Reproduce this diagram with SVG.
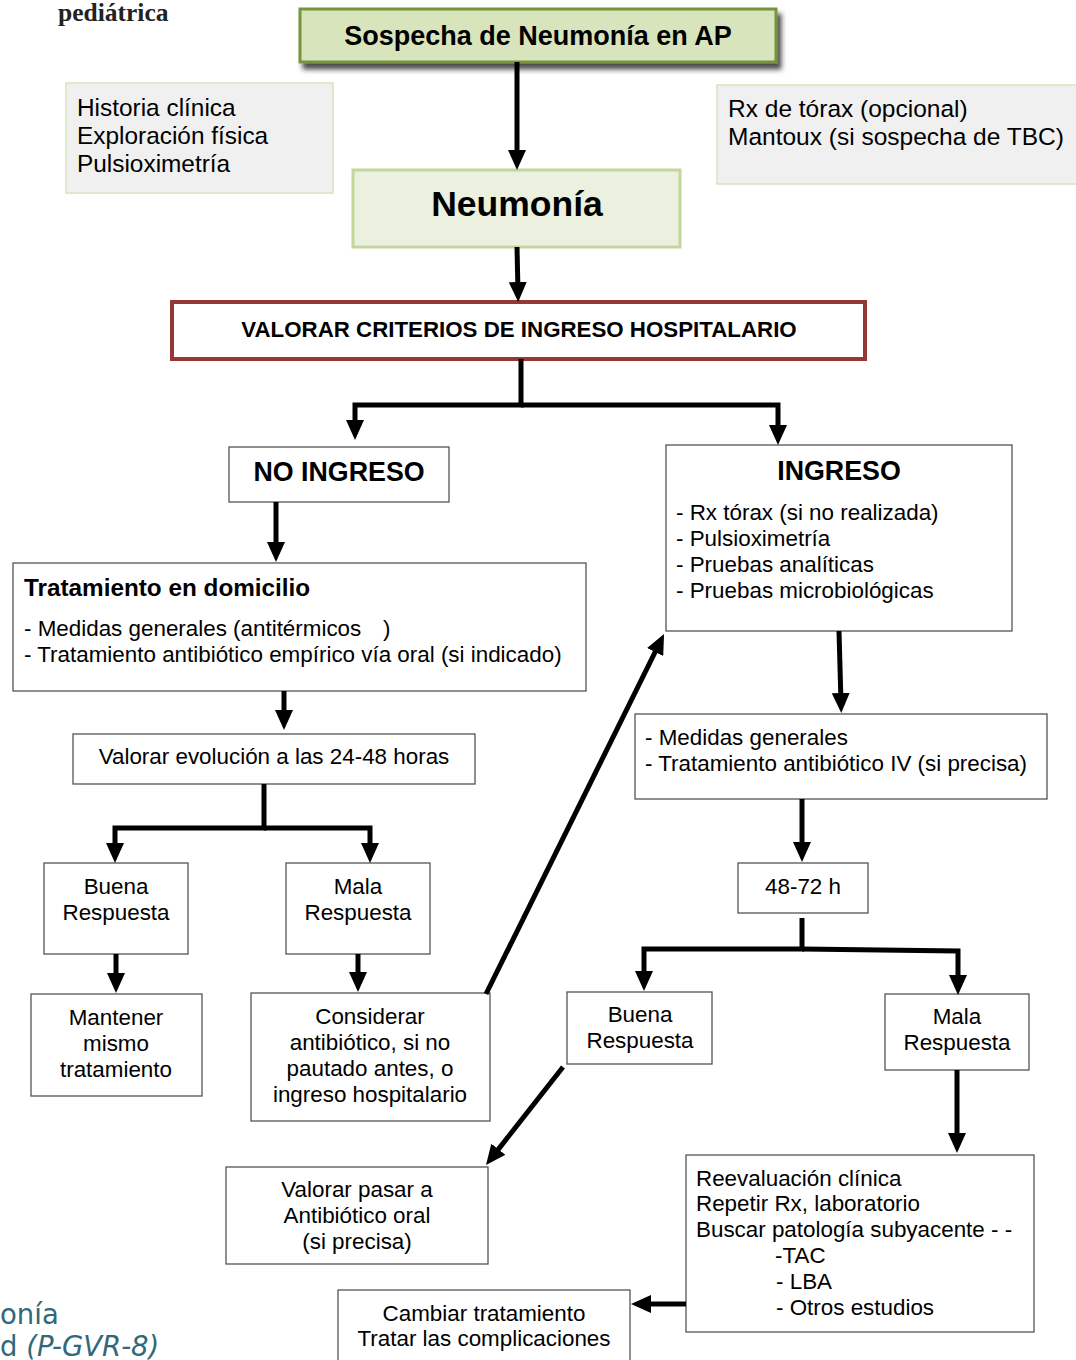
<svg xmlns="http://www.w3.org/2000/svg" width="1076" height="1360" viewBox="0 0 1076 1360">
<defs>
<marker id="ah" markerUnits="userSpaceOnUse" viewBox="0 0 20 18" markerWidth="20" markerHeight="18" refX="10" refY="9" orient="auto">
<path d="M0,0 L20,9 L0,18 z" fill="#000"/>
</marker>
<filter id="sh" x="-10%" y="-30%" width="125%" height="180%">
<feDropShadow dx="4" dy="6" stdDeviation="2.5" flood-color="#222" flood-opacity="0.8"/>
</filter>
</defs>
<style>
text{font-family:"Liberation Sans",Arial,sans-serif;fill:#000}
.r{font-size:22.4px}
.c{text-anchor:middle}
.b{font-weight:bold}
.box{fill:#fff;stroke:#555;stroke-width:1.3}
.info{fill:#f0f0f0;stroke:#d8e4bc;stroke-width:1.5}
.con path{fill:none;stroke:#000;stroke-width:5;marker-end:url(#ah)}
</style>
<rect width="1076" height="1360" fill="#fff"/>
<text x="58" y="21" style="font-family:'Liberation Serif','Times New Roman',serif;font-weight:bold;font-size:25.5px;fill:#222">pediátrica</text>
<text x="0" y="1324" style="font-family:'DejaVu Sans',Verdana,sans-serif;font-size:27.5px;fill:#31687a">onía</text>
<text x="0" y="1356" style="font-family:'DejaVu Sans',Verdana,sans-serif;font-size:27.5px;fill:#31687a">d <tspan font-style="italic">(P-GVR-8)</tspan></text>

<g id="n-sospecha">
<rect x="300" y="9" width="476" height="53" fill="#d8e4bc" stroke="#77933c" stroke-width="3" filter="url(#sh)"/>
<text x="538" y="45" class="c b" font-size="27">Sospecha de Neumonía en AP</text>
</g>
<g id="n-historia">
<rect x="66" y="83" width="267" height="110" class="info"/>
<text x="77" y="116" font-size="24.4">Historia clínica</text>
<text x="77" y="144" font-size="24.4">Exploración física</text>
<text x="77" y="172" font-size="24.4">Pulsioximetría</text>
</g>
<g id="n-rx">
<rect x="717" y="85" width="362" height="99" class="info"/>
<text x="728" y="117" font-size="24.5">Rx de tórax (opcional)</text>
<text x="728" y="145" font-size="24.5">Mantoux (si sospecha de TBC)</text>
</g>
<g id="n-neumonia">
<rect x="353" y="170" width="327" height="77" fill="#ebf1de" stroke="#c3d69b" stroke-width="3"/>
<text x="517" y="216" class="c b" font-size="35.5">Neumonía</text>
</g>
<g id="n-valorar">
<rect x="172" y="302" width="693" height="57" fill="#fff" stroke="#953735" stroke-width="4"/>
<text x="519" y="337" class="c b" font-size="22.3">VALORAR CRITERIOS DE INGRESO HOSPITALARIO</text>
</g>
<g id="n-noingreso">
<rect x="229" y="447" width="220" height="55" class="box"/>
<text x="339" y="481" class="c b" font-size="26.8">NO INGRESO</text>
</g>
<g id="n-ingreso">
<rect x="666" y="445" width="346" height="186" class="box"/>
<text x="839" y="480" class="c b" font-size="26.8">INGRESO</text>
<text x="676" y="520" class="r">- Rx tórax (si no realizada)</text>
<text x="676" y="546" class="r">- Pulsioximetría</text>
<text x="676" y="572" class="r">- Pruebas analíticas</text>
<text x="676" y="598" class="r">- Pruebas microbiológicas</text>
</g>
<g id="n-domicilio">
<rect x="13" y="563" width="573" height="128" class="box"/>
<text x="24" y="596" class="b" font-size="24.3">Tratamiento en domicilio</text>
<text x="24" y="636" class="r">- Medidas generales (antitérmicos<tspan x="383">)</tspan></text>
<text x="24" y="662" class="r">- Tratamiento antibiótico empírico vía oral (si indicado)</text>
</g>
<g id="n-evolucion">
<rect x="73" y="734" width="402" height="50" class="box"/>
<text x="274" y="764" class="r c">Valorar evolución a las 24-48 horas</text>
</g>
<g id="n-buena1">
<rect x="44" y="863" width="144" height="91" class="box"/>
<text x="116" y="894" class="r c">Buena</text>
<text x="116" y="920" class="r c">Respuesta</text>
</g>
<g id="n-mala1">
<rect x="286" y="863" width="144" height="91" class="box"/>
<text x="358" y="894" class="r c">Mala</text>
<text x="358" y="920" class="r c">Respuesta</text>
</g>
<g id="n-mantener">
<rect x="31" y="994" width="171" height="102" class="box"/>
<text x="116" y="1025" class="r c">Mantener</text>
<text x="116" y="1051" class="r c">mismo</text>
<text x="116" y="1077" class="r c">tratamiento</text>
</g>
<g id="n-considerar">
<rect x="251" y="993" width="239" height="128" class="box"/>
<text x="370" y="1024" class="r c">Considerar</text>
<text x="370" y="1050" class="r c">antibiótico, si no</text>
<text x="370" y="1076" class="r c">pautado antes, o</text>
<text x="370" y="1102" class="r c">ingreso hospitalario</text>
</g>
<g id="n-medidas">
<rect x="635" y="714" width="412" height="85" class="box"/>
<text x="645" y="745" class="r">- Medidas generales</text>
<text x="645" y="771" class="r">- Tratamiento antibiótico IV (si precisa)</text>
</g>
<g id="n-4872">
<rect x="738" y="863" width="130" height="50" class="box"/>
<text x="803" y="894" class="r c">48-72 h</text>
</g>
<g id="n-buena2">
<rect x="567" y="992" width="145" height="72" class="box"/>
<text x="640" y="1022" class="r c">Buena</text>
<text x="640" y="1048" class="r c">Respuesta</text>
</g>
<g id="n-mala2">
<rect x="885" y="994" width="144" height="76" class="box"/>
<text x="957" y="1024" class="r c">Mala</text>
<text x="957" y="1050" class="r c">Respuesta</text>
</g>
<g id="n-oral">
<rect x="226" y="1167" width="262" height="97" class="box"/>
<text x="357" y="1197" class="r c">Valorar pasar a</text>
<text x="357" y="1223" class="r c">Antibiótico oral</text>
<text x="357" y="1249" class="r c">(si precisa)</text>
</g>
<g id="n-reevaluacion">
<rect x="686" y="1155" width="348" height="177" class="box"/>
<text x="696" y="1186" class="r">Reevaluación clínica</text>
<text x="696" y="1211" class="r">Repetir Rx, laboratorio</text>
<text x="696" y="1237" class="r">Buscar patología subyacente - -</text>
<text x="775" y="1263" class="r">-TAC</text>
<text x="776" y="1289" class="r">- LBA</text>
<text x="776" y="1315" class="r">- Otros estudios</text>
</g>
<g id="n-cambiar">
<rect x="338" y="1290" width="292" height="80" class="box"/>
<text x="484" y="1321" class="r c">Cambiar tratamiento</text>
<text x="484" y="1346" class="r c">Tratar las complicaciones</text>
</g>

<g class="con" id="connectors">
<path d="M517,62 V160"/>
<path d="M517,247 L518,292"/>
<path d="M521,359 V405 H355 V430"/>
<path d="M521,405 H778 V435"/>
<path d="M276,502 V552"/>
<path d="M284,691 V720"/>
<path d="M264,784 V828 H115 V853"/>
<path d="M264,828 H370 V853"/>
<path d="M116,954 V983"/>
<path d="M358,954 V982"/>
<path d="M486,994 L659.6,643"/>
<path d="M839,631 L841,703"/>
<path d="M802,799 V852"/>
<path d="M802,918 V949 H644 V981"/>
<path d="M802,949 L958,951 V985"/>
<path d="M563,1067 L492.2,1157.1"/>
<path d="M957,1070 V1143"/>
<path d="M686,1304 H641"/>
</g>
</svg>
